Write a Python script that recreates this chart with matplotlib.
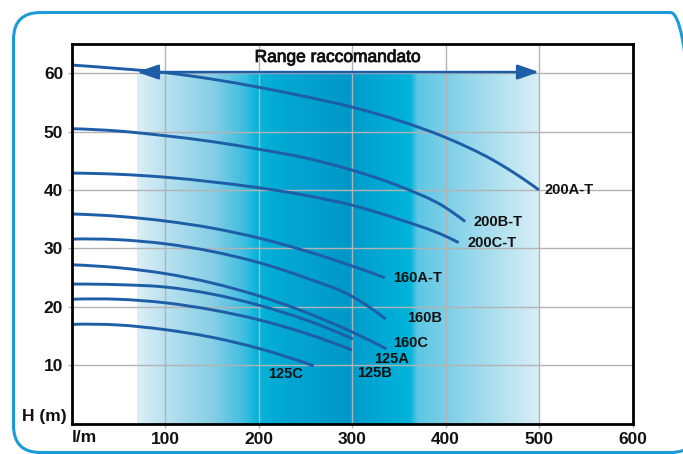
import numpy as np
import matplotlib
matplotlib.use("Agg")
import matplotlib.pyplot as plt
import matplotlib.patheffects as pe
from matplotlib.colors import LinearSegmentedColormap
from matplotlib.patches import FancyBboxPatch, PathPatch
from matplotlib.path import Path
from matplotlib.transforms import IdentityTransform

plt.rcParams['font.family'] = ['Liberation Sans', 'DejaVu Sans']

# Axis ticks
flow_ticks = [100, 200, 300, 400, 500, 600]
head_ticks = [10, 20, 30, 40, 50, 60]

# Pump curves: flow rate (l/m) and head (m)
q_200A = [0, 50, 100, 150, 200, 250, 300, 350, 400, 450, 500]
h_200A = [61.4, 60.8, 60.1, 59.0, 57.6, 56.0, 54.2, 51.9, 49.0, 45.2, 40.0]

q_200B = [0, 50, 100, 150, 200, 250, 300, 350, 400, 421]
h_200B = [50.5, 50.1, 49.3, 48.3, 47.0, 45.5, 43.4, 40.7, 37.0, 34.6]

q_200C = [0, 50, 100, 150, 200, 250, 300, 350, 400, 414]
h_200C = [42.9, 42.7, 42.2, 41.4, 40.4, 39.1, 37.4, 35.0, 32.1, 31.0]

q_160A = [0, 50, 100, 150, 200, 250, 300, 335]
h_160A = [35.9, 35.5, 34.7, 33.5, 31.8, 29.6, 27.0, 25.0]

q_160B = [0, 50, 100, 150, 200, 250, 300, 336]
h_160B = [31.6, 31.5, 30.8, 29.5, 27.6, 25.0, 21.8, 17.9]

q_160C = [0, 50, 100, 150, 200, 250, 300, 337]
h_160C = [27.2, 26.7, 25.7, 24.1, 21.9, 19.1, 15.7, 12.8]

q_125A = [0, 50, 100, 150, 200, 250, 301]
h_125A = [23.9, 23.8, 23.4, 22.2, 20.3, 17.8, 14.5]

q_125B = [0, 50, 100, 150, 200, 250, 300]
h_125B = [21.3, 21.3, 20.7, 19.5, 17.8, 15.5, 12.6]

q_125C = [0, 50, 100, 150, 200, 259]
h_125C = [17.0, 16.9, 16.1, 14.8, 12.9, 9.9]

curve_names = ["200A-T", "200B-T", "200C-T", "160A-T", "160B",
               "160C", "125A", "125B", "125C"]
curves = [(q_200A, h_200A), (q_200B, h_200B), (q_200C, h_200C),
          (q_160A, h_160A), (q_160B, h_160B), (q_160C, h_160C),
          (q_125A, h_125A), (q_125B, h_125B), (q_125C, h_125C)]

# Where each curve name is written (data coordinates, left/centre anchored)
label_pos = [(506, 40.0), (430, 34.6), (424, 31.0), (344, 25.0), (359, 18.1),
             (343.5, 13.8), (324, 11.0), (305, 8.6), (210.5, 8.5)]

# Recommended operating range
range_min, range_max = 70, 500
range_text = "Range raccomandato"

# Background band colours across the recommended range
band_stops = [(70, '#dbeff7'), (100, '#b9e1ef'), (150, '#86cfe6'),
              (185, '#3cbde0'), (198, '#06b4da'), (230, '#02a6d2'),
              (295, '#0098c9'), (300, '#009ccb'), (330, '#00a8d4'),
              (362, '#00b4da'), (370, '#5ec6e3'), (420, '#8fd5ea'),
              (460, '#b5e2f0'), (500, '#d8eef6')]


def smooth_path(q, h):
    """Piecewise cubic Hermite path through the measured points."""
    q = np.asarray(q, float)
    h = np.asarray(h, float)
    n = len(q)
    d = np.diff(q)
    s = np.diff(h) / d
    m = np.empty(n)
    for i in range(1, n - 1):
        m[i] = (s[i - 1] * d[i] + s[i] * d[i - 1]) / (d[i - 1] + d[i])
    m[0] = s[0] - (m[1] - s[0])
    m[-1] = s[-1] + (s[-1] - m[-2])
    verts = [(q[0], h[0])]
    codes = [Path.MOVETO]
    for i in range(n - 1):
        dx = d[i] / 3.0
        verts += [(q[i] + dx, h[i] + m[i] * dx),
                  (q[i + 1] - dx, h[i + 1] - m[i + 1] * dx),
                  (q[i + 1], h[i + 1])]
        codes += [Path.CURVE4] * 3
    return Path(verts, codes)


W, H = 683, 454
fig = plt.figure(figsize=(W / 100, H / 100), dpi=100)
fig.patch.set_facecolor('white')

ax = fig.add_axes([71.5 / W, (H - 423.7) / H, 561 / W, (423.7 - 44) / H])
ax.set_xlim(0, 600)
ax.set_ylim(0, 65)

# Gradient band
span = range_max - range_min
cmap = LinearSegmentedColormap.from_list(
    'band', [((x - range_min) / span, c) for x, c in band_stops])
grad = np.linspace(0, 1, 1000)[None, :]
ax.imshow(grad, extent=[range_min, range_max, 0, 60], aspect='auto',
          cmap=cmap, interpolation='bilinear', zorder=0)

# Grid
ax.set_xticks(flow_ticks)
ax.set_yticks(head_ticks)
ax.grid(True, color='#b3b3b3', lw=1.0, zorder=1)
ax.set_axisbelow(False)
for gl in ax.get_xgridlines() + ax.get_ygridlines():
    gl.set_zorder(1)

ax.tick_params(axis='both', length=3, width=1.0, color='#b3b3b3',
               direction='out', labelsize=12.5, pad=3)
for lbl in ax.get_xticklabels() + ax.get_yticklabels():
    lbl.set_fontweight('bold')
    lbl.set_color('#111111')

for s in ax.spines.values():
    s.set_linewidth(2.0)
    s.set_color('black')
    s.set_zorder(5)

# Curves
curve_color = '#1d5ea7'
for (q, h), name, (lx, ly) in zip(curves, curve_names, label_pos):
    ax.add_patch(PathPatch(smooth_path(q, h), fill=False, edgecolor=curve_color,
                           lw=2.1, capstyle='butt', zorder=3))
    ax.text(lx, ly, name, ha='left', va='center', fontsize=10.5,
            fontweight='bold', color='#111111', zorder=4)

# Range arrow and caption
ax.annotate('', xy=(range_max, 60.2), xytext=(range_min, 60.2),
            arrowprops=dict(arrowstyle='<|-|>,head_length=1.3,head_width=0.45',
                            mutation_scale=10, lw=1.8, color=curve_color,
                            shrinkA=0, shrinkB=0), zorder=4)
ax.text(285, 62.7, range_text, ha='center', va='center', fontsize=12.5,
        color='#111111', zorder=4,
        path_effects=[pe.withStroke(linewidth=0.6, foreground='#111111')])

# Axis captions
ax.text(0, -2.3, 'l/m', ha='left', va='center', fontsize=12.5,
        fontweight='bold', color='#111111', transform=ax.transData,
        clip_on=False)
fig.text(22 / W, (H - 417) / H, 'H (m)', ha='left', va='center',
         fontsize=12.5, fontweight='bold', color='#111111')

# Rounded outer frame (its right side runs just past the canvas edge)
frame = FancyBboxPatch((13.5, 1.5), 684, 440,
                       boxstyle='round,pad=0,rounding_size=27',
                       transform=IdentityTransform(), fill=False,
                       edgecolor='#1b9bd7', lw=2.2, zorder=10)
fig.add_artist(frame)

fig.savefig('out.png', dpi=100)
